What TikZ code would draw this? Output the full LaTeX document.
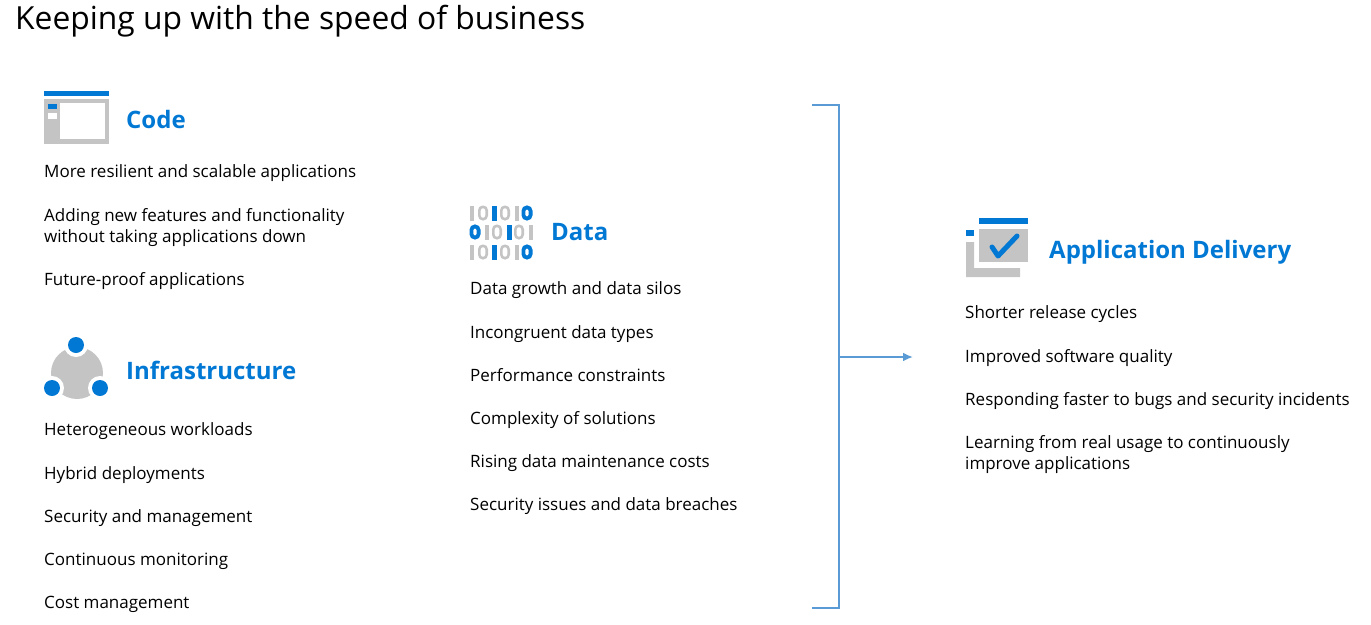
\documentclass[tikz,border=0pt]{standalone}
\usepackage{fontspec}
\setmainfont{Open Sans}
\usepackage{xcolor}
\usetikzlibrary{calc,arrows.meta}
\definecolor{iconblue}{HTML}{0078D4}
\definecolor{icongray}{HTML}{C4C4C4}
\definecolor{lineblue}{HTML}{5B9BD5}
\tikzset{
	bodytext/.style={anchor=base west, inner sep=0pt, align=left, font=\fontsize{17}{21}\selectfont, text=black},
	headtext/.style={anchor=base west, inner sep=0pt, font=\fontsize{24}{30}\selectfont\bfseries, text=iconblue},
}
\begin{document}
\begin{tikzpicture}[x=1pt,y=-1pt]
		\useasboundingbox (0,0) rectangle (1371,624);
		\coordinate (BracketTop)    at (812,105);
		\coordinate (BracketBottom) at (812,608);
		\coordinate (ArrowStart)    at (839,357);
		\coordinate (ArrowEnd)      at (913,357);

		\node[anchor=base west, inner sep=0pt, font=\fontsize{31.8}{36}\selectfont] (Title) at (15,29) {Keeping up with the speed of business};

		% Code icon
		\fill[iconblue] (44,91) rectangle (109,95.5);
		\fill[icongray] (44,99) rectangle (109,143.5);
		\fill[white] (60,103) rectangle (105,139);
		\fill[iconblue] (48,104) rectangle (57,109);
		\fill[white] (48,113) rectangle (57,119);
		\node[headtext] (CodeHead) at (126,128) {Code};

		\foreach \y/\n/\t in {177/CodeA/More resilient and scalable applications,
			285/CodeC/Future-proof applications}{%
			\node[bodytext] (\n) at (44,\y) {\t};
		}
		\node[bodytext] (CodeB) at (44,242) {Adding new features and functionality\\without taking applications down};

		% Infrastructure icon
		\fill[icongray] (77,373) circle (26);
		\foreach \x/\y in {76/345,52/388,100/388}{%
			\fill[white] (\x,\y) circle (12);
			\fill[iconblue] (\x,\y) circle (8);
		}
		\node[headtext] (InfraHead) at (126,379) {Infrastructure};

		\foreach \y/\n/\t in {435/InfraA/Heterogeneous workloads,
			479/InfraB/Hybrid deployments,
			522/InfraC/Security and management,
			565/InfraD/Continuous monitoring,
			608/InfraE/Cost management}{%
			\node[bodytext] (\n) at (44,\y) {\t};
		}

		% Data icon, the ones
		\foreach \x/\y/\c/\w in {472/213/icongray/2,494/213/iconblue/2.5,517/213/icongray/2,
			487/232/icongray/2,509/232/iconblue/2.5,531/232/icongray/2,
			472/252/icongray/2,494/252/iconblue/2.5,517/252/icongray/2}{%
			\fill[\c] (\x-\w,\y-7.5) rectangle (\x+\w,\y+7.5);
		}
		% Data icon, the zeros
		\foreach \x/\y in {483/213,505/213,497/232,519/232,483/252,505/252}{%
			\draw[icongray,line width=2.6,rounded corners=3.6] (\x-3.7,\y-6.2) rectangle (\x+3.7,\y+6.2);
		}
		\foreach \x/\y in {527/213,475/232,527/252}{%
			\draw[iconblue,line width=3.8,rounded corners=3.6] (\x-3.6,\y-5.6) rectangle (\x+3.6,\y+5.6);
		}
		\node[headtext] (DataHead) at (551,240) {Data};

		\foreach \y/\n/\t in {294/DataA/Data growth and data silos,
			338/DataB/Incongruent data types,
			381/DataC/Performance constraints,
			424/DataD/Complexity of solutions,
			467/DataE/Rising data maintenance costs,
			510/DataF/Security issues and data breaches}{%
			\node[bodytext] (\n) at (470,\y) {\t};
		}

		% Bracket and arrow
		\draw[lineblue,line width=2] (BracketTop) -| (839,608) -- (BracketBottom);
		\draw[lineblue,line width=2,-{Latex[length=10,width=9]}] (ArrowStart) -- (ArrowEnd);

		% Application Delivery icon
		\fill[iconblue] (979,218) rectangle (1028,224);
		\fill[icongray] (979,229) rectangle (1028,262);
		\draw[iconblue,line width=5,line cap=round,line join=round] (992,247) -- (998,256) -- (1017,236);
		\fill[iconblue] (966,230) rectangle (974,236);
		\fill[icongray] (966,242) -- (974,242) -- (974,268) -- (1020,268) -- (1020,277) -- (966,277) -- cycle;
		\node[headtext] (AppHead) at (1049,258) {Application Delivery};

		\foreach \y/\n/\t in {318/AppA/Shorter release cycles,
			362/AppB/Improved software quality,
			405/AppC/Responding faster to bugs and security incidents}{%
			\node[bodytext] (\n) at (965,\y) {\t};
		}
		\node[bodytext] (AppD) at (965,469) {Learning from real usage to continuously\\improve applications};
\end{tikzpicture}
\end{document}
